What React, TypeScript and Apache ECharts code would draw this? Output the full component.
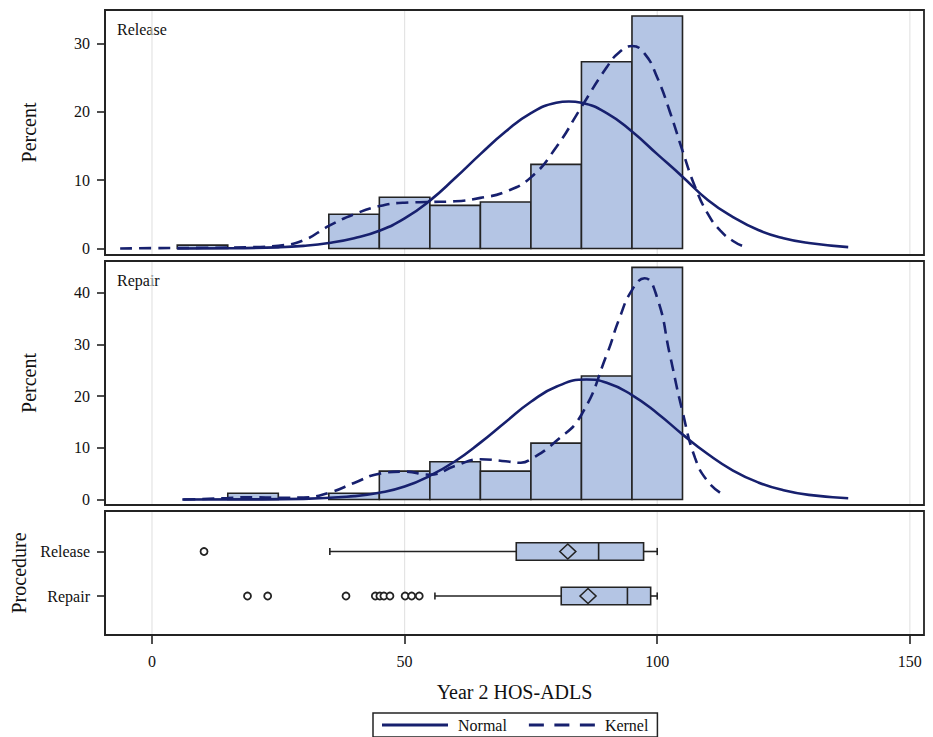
import React, { useEffect, useRef } from 'react';
import * as echarts from 'echarts';

// ---------- data ----------
const binStarts = [5, 15, 25, 35, 45, 55, 65, 75, 85, 95];
const binWidth = 10;
const releasePercent = [0.5, 0, 0, 5.0, 7.5, 6.3, 6.8, 12.3, 27.3, 34.0];
const repairPercent = [0, 1.2, 0, 1.2, 5.5, 7.3, 5.5, 10.9, 23.9, 44.9];

const releaseNormalX = [5, 15, 25, 30, 35, 40, 45, 50, 55, 60, 65, 70, 75, 80, 82.5, 85, 90, 95, 100, 105, 110, 115, 120, 125, 130, 137.8];
const releaseNormalY = [0.0, 0.03, 0.17, 0.38, 0.8, 1.5, 2.6, 4.4, 7.0, 10.3, 13.8, 17.1, 19.8, 21.3, 21.5, 21.3, 19.8, 17.1, 13.8, 10.5, 7.1, 4.6, 2.7, 1.5, 0.8, 0.2];

const releaseKernelX = [-6.3, 0, 10, 20, 25, 30, 35, 40, 45, 50, 55, 60, 65, 70, 75, 80, 85, 90, 92.5, 95, 97.5, 100, 102.5, 105, 107.5, 110, 112.5, 115, 116.8];
const releaseKernelY = [0.0, 0.05, 0.1, 0.2, 0.4, 1.2, 3.3, 5.0, 6.2, 6.7, 6.8, 6.9, 7.4, 8.3, 10.4, 14.8, 20.7, 26.5, 28.7, 29.6, 28.5, 25.0, 20.0, 14.3, 9.0, 5.1, 2.6, 1.1, 0.4];

const repairNormalX = [6, 20, 30, 40, 45, 50, 55, 60, 65, 70, 75, 80, 86, 90, 95, 100, 105, 110, 115, 120, 125, 130, 137.8];
const repairNormalY = [0.0, 0.02, 0.12, 0.65, 1.3, 2.5, 4.6, 7.4, 11.0, 15.0, 18.9, 21.8, 23.2, 22.6, 20.2, 16.7, 12.6, 8.8, 5.6, 3.3, 1.8, 0.9, 0.25];

const repairKernelX = [6.2, 10, 15, 20, 25, 30, 35, 40, 45, 50, 55, 60, 65, 70, 73, 75, 80, 85, 90, 92.5, 95, 97.5, 100, 102.5, 105, 107.5, 110, 112.8];
const repairKernelY = [0.0, 0.1, 0.3, 0.45, 0.35, 0.4, 1.3, 3.2, 5.0, 5.4, 4.8, 6.5, 7.8, 7.4, 7.1, 7.8, 11.3, 16.4, 28.0, 35.0, 40.5, 42.8, 39.0, 28.0, 17.0, 8.0, 3.5, 1.1];

const procedures = ['Release', 'Repair'];
const boxLow = [35.2, 56.0];
const boxQ1 = [72.1, 81.0];
const boxMedian = [88.4, 94.1];
const boxQ3 = [97.3, 98.7];
const boxHigh = [100, 100];
const boxMean = [82.3, 86.3];
const releaseOutliers = [10.3];
const repairOutliers = [18.9, 22.9, 38.4, 44.2, 45.1, 45.9, 47.1, 50.1, 51.4, 52.9];

const xTicks = [0, 50, 100, 150];
const releaseTicks = [0, 10, 20, 30];
const repairTicks = [0, 10, 20, 30, 40];
const procedureTicks = [1, 2];

// ---------- styles ----------
const FONT = '"Liberation Serif", "Times New Roman", serif';
const BAR = '#b4c5e4';
const EDGE = '#232323';
const NAVY = '#17206e';
const GRIDLINE = '#e4e4e4';
const X_MIN = -9.3;
const X_MAX = 152.8;
const SOLID_ICON = 'path://M0,0H66V3H0Z';
const DASH_ICON = 'path://M0,0H15V3H0Z M25.5,0H40.5V3H25.5Z M51,0H66V3H51Z';

const pairs = (xs: number[], ys: number[]) => xs.map((x, i) => [x, ys[i]]);

export default function App() {
  const ref = useRef<HTMLDivElement>(null);

  useEffect(() => {
    if (!ref.current) return;
    const chart = echarts.init(ref.current, null, { renderer: 'svg' });

    const grids = [
      { left: 105, right: 9, top: 10, height: 245 },
      { left: 105, right: 9, top: 261, height: 244 },
      { left: 105, right: 9, top: 511, height: 124 },
    ].map((g) => ({ ...g, show: true, borderColor: EDGE, borderWidth: 1.8, backgroundColor: 'transparent' }));

    const xAxis = [0, 1, 2].map((gi) => {
      const bottom = gi === 2;
      return {
        type: 'value',
        gridIndex: gi,
        min: X_MIN,
        max: X_MAX,
        axisLine: { show: false, onZero: false },
        splitLine: { show: false },
        axisTick: bottom
          ? { show: true, customValues: xTicks, length: 9, lineStyle: { color: EDGE, width: 1.6 } }
          : { show: false },
        axisLabel: bottom
          ? { show: true, customValues: xTicks, margin: 18, fontFamily: FONT, fontSize: 16, color: '#111' }
          : { show: false },
        name: bottom ? 'Year 2 HOS-ADLS' : '',
        nameLocation: 'middle',
        nameGap: 47,
        nameTextStyle: { fontFamily: FONT, fontSize: 20, color: '#111' },
      };
    });

    const yCommon = {
      type: 'value',
      axisLine: { show: true, onZero: false, lineStyle: { color: EDGE, width: 1.8 } },
      splitLine: { show: false },
      nameLocation: 'middle',
      nameTextStyle: { fontFamily: FONT, fontSize: 20, color: '#111' },
    };
    const yAxis = [
      {
        ...yCommon,
        gridIndex: 0,
        min: -0.95,
        max: 34.87,
        name: 'Percent',
        nameGap: 66,
        axisTick: { show: true, customValues: releaseTicks, length: 8, lineStyle: { color: EDGE, width: 1.6 } },
        axisLabel: { show: true, customValues: releaseTicks, margin: 15, fontFamily: FONT, fontSize: 16, color: '#111' },
      },
      {
        ...yCommon,
        gridIndex: 1,
        min: -1.06,
        max: 46.13,
        name: 'Percent',
        nameGap: 66,
        axisTick: { show: true, customValues: repairTicks, length: 8, lineStyle: { color: EDGE, width: 1.6 } },
        axisLabel: { show: true, customValues: repairTicks, margin: 15, fontFamily: FONT, fontSize: 16, color: '#111' },
      },
      {
        ...yCommon,
        gridIndex: 2,
        inverse: true,
        min: 0.09,
        max: 2.876,
        name: 'Procedure',
        nameGap: 72,
        axisTick: { show: true, customValues: procedureTicks, length: 8, lineStyle: { color: EDGE, width: 1.6 } },
        axisLabel: {
          show: true,
          customValues: procedureTicks,
          margin: 15,
          fontFamily: FONT,
          fontSize: 16,
          color: '#111',
          formatter: (v: number) => procedures[Math.round(v) - 1] ?? '',
        },
      },
    ];

    const gridLineSeries = (gi: number) => ({
      type: 'custom',
      xAxisIndex: gi,
      yAxisIndex: gi,
      silent: true,
      z: 0,
      data: xTicks.map((v) => [v, 0]),
      encode: { x: 0, y: 1 },
      renderItem: (params: any, api: any) => {
        const cs = params.coordSys;
        const px = api.coord([api.value(0), 0])[0];
        return {
          type: 'line',
          shape: { x1: px, y1: cs.y + 1, x2: px, y2: cs.y + cs.height - 1 },
          style: { stroke: GRIDLINE, lineWidth: 1.2 },
        };
      },
    });

    const histSeries = (gi: number, values: number[]) => ({
      type: 'custom',
      xAxisIndex: gi,
      yAxisIndex: gi,
      silent: true,
      z: 2,
      data: binStarts.map((b, i) => [b, values[i]]).filter((d) => d[1] > 0),
      encode: { x: 0, y: 1 },
      renderItem: (_params: any, api: any) => {
        const x0 = api.value(0);
        const h = api.value(1);
        const p0 = api.coord([x0, h]);
        const p1 = api.coord([x0 + binWidth, 0]);
        return {
          type: 'rect',
          shape: { x: p0[0], y: p0[1], width: p1[0] - p0[0], height: p1[1] - p0[1] },
          style: { fill: BAR, stroke: EDGE, lineWidth: 1.6 },
        };
      },
    });

    const curveSeries = (gi: number, name: string, data: number[][], dashed: boolean) => ({
      type: 'line',
      name,
      xAxisIndex: gi,
      yAxisIndex: gi,
      data,
      symbol: 'none',
      showSymbol: false,
      smooth: 0.5,
      z: 3,
      silent: true,
      itemStyle: { color: NAVY },
      lineStyle: { color: NAVY, width: 2.6, type: dashed ? [12, 7] : 'solid' },
    });

    const boxSeries = {
      type: 'custom',
      xAxisIndex: 2,
      yAxisIndex: 2,
      silent: true,
      z: 2,
      data: procedures.map((_, i) => [i + 1, boxLow[i], boxQ1[i], boxMedian[i], boxQ3[i], boxHigh[i], boxMean[i]]),
      encode: { y: 0, x: [1, 2, 3, 4, 5, 6] },
      renderItem: (_params: any, api: any) => {
        const yv = api.value(0);
        const c = (k: number) => api.coord([api.value(k), yv]);
        const low = c(1), q1 = c(2), med = c(3), q3 = c(4), high = c(5), mean = c(6);
        const y = low[1];
        const hh = 8.7, cap = 3.6, dw = 8, dh = 7.5;
        const ls = { stroke: EDGE, lineWidth: 1.6 };
        return {
          type: 'group',
          children: [
            { type: 'line', shape: { x1: low[0], y1: y, x2: q1[0], y2: y }, style: ls },
            { type: 'line', shape: { x1: q3[0], y1: y, x2: high[0], y2: y }, style: ls },
            { type: 'line', shape: { x1: low[0], y1: y - cap, x2: low[0], y2: y + cap }, style: ls },
            { type: 'line', shape: { x1: high[0], y1: y - cap, x2: high[0], y2: y + cap }, style: ls },
            { type: 'rect', shape: { x: q1[0], y: y - hh, width: q3[0] - q1[0], height: 2 * hh }, style: { fill: BAR, stroke: EDGE, lineWidth: 1.6 } },
            { type: 'line', shape: { x1: med[0], y1: y - hh, x2: med[0], y2: y + hh }, style: ls },
            {
              type: 'polygon',
              shape: { points: [[mean[0] - dw, y], [mean[0], y - dh], [mean[0] + dw, y], [mean[0], y + dh]] },
              style: { fill: BAR, stroke: EDGE, lineWidth: 1.6 },
            },
          ],
        };
      },
    };

    const outlierSeries = {
      type: 'scatter',
      xAxisIndex: 2,
      yAxisIndex: 2,
      silent: true,
      z: 3,
      symbol: 'circle',
      symbolSize: 7,
      itemStyle: { color: '#ffffff', borderColor: EDGE, borderWidth: 1.8, opacity: 1 },
      data: [
        ...releaseOutliers.map((v) => [v, 1]),
        ...repairOutliers.map((v) => [v, 2]),
      ],
    };

    chart.setOption({
      animation: false,
      backgroundColor: '#ffffff',
      textStyle: { fontFamily: FONT },
      grid: grids,
      xAxis,
      yAxis,
      legend: {
        data: [
          { name: 'Normal', icon: SOLID_ICON },
          { name: 'Kernel', icon: DASH_ICON },
        ],
        left: 373,
        top: 713,
        orient: 'horizontal',
        itemWidth: 68,
        itemHeight: 3,
        itemGap: 22,
        padding: [4, 9, 4, 9],
        borderColor: EDGE,
        borderWidth: 1.5,
        selectedMode: false,
        itemStyle: { color: NAVY, borderWidth: 0 },
        textStyle: { fontFamily: FONT, fontSize: 16, color: '#111', lineHeight: 16, padding: [0, 0, 0, 4] },
      },
      graphic: [
        { type: 'text', left: 117, top: 21, style: { text: 'Release', font: `16px ${FONT}`, fill: '#111' } },
        { type: 'text', left: 117, top: 272, style: { text: 'Repair', font: `16px ${FONT}`, fill: '#111' } },
      ],
      series: [
        gridLineSeries(0),
        gridLineSeries(1),
        gridLineSeries(2),
        histSeries(0, releasePercent),
        histSeries(1, repairPercent),
        curveSeries(0, 'Normal', pairs(releaseNormalX, releaseNormalY), false),
        curveSeries(0, 'Kernel', pairs(releaseKernelX, releaseKernelY), true),
        curveSeries(1, 'Normal', pairs(repairNormalX, repairNormalY), false),
        curveSeries(1, 'Kernel', pairs(repairKernelX, repairKernelY), true),
        boxSeries,
        outlierSeries,
      ],
    });

    return () => chart.dispose();
  }, []);

  return (
    <div
      ref={ref}
      style={{ position: 'fixed', left: 0, top: 0, width: 933, height: 737, background: '#fff' }}
    />
  );
}
